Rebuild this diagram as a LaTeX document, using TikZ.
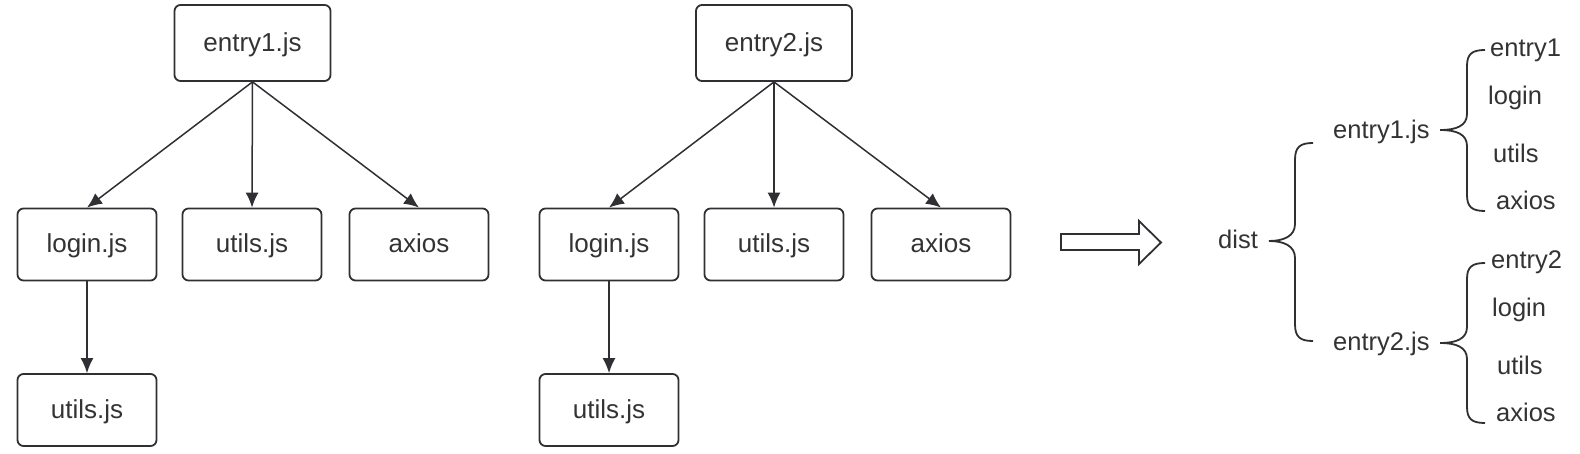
\documentclass[tikz,border=0pt]{standalone}
\usepackage{fontspec}
\setmainfont{Liberation Sans}
\usetikzlibrary{arrows.meta}
\definecolor{ink}{HTML}{2F3033}
\definecolor{txt}{HTML}{333333}
\tikzset{
  filebox/.style={draw=ink, line width=1.8pt, rounded corners=6pt, minimum width=139pt, minimum height=72pt, text=txt, font=\fontsize{26}{30}\selectfont, inner sep=0pt, text height=22pt, text depth=5pt},
  topbox/.style={filebox, minimum width=156pt, minimum height=76pt},
  conn/.style={draw=ink, line width=1.5pt, -{Latex[length=15pt,width=13pt]}},
  lbl/.style={text=txt, font=\fontsize{25.5}{30}\selectfont, inner sep=0pt, anchor=base west},
  brace/.style={draw=ink, line width=1.8pt}
}
\begin{document}
\begin{tikzpicture}[x=1pt,y=-1pt]
\useasboundingbox (0,0) rectangle (1580,454);
% group 1
\node[topbox] (e1) at (252.5,43) {entry1.js};
\node[filebox] (l1) at (87,244.5) {login.js};
\node[filebox] (u1) at (252,244.5) {utils.js};
\node[filebox] (a1) at (419,244.5) {axios};
\node[filebox] (ul1) at (87,410) {utils.js};
\draw[conn] (e1.south) -- (l1.north);
\draw[conn] (e1.south) -- (u1.north);
\draw[conn] (e1.south) -- (a1.north);
\draw[conn] (l1.south) -- (ul1.north);
% group 2
\node[topbox] (e2) at (774,43) {entry2.js};
\node[filebox] (l2) at (609,244.5) {login.js};
\node[filebox] (u2) at (774,244.5) {utils.js};
\node[filebox] (a2) at (941,244.5) {axios};
\node[filebox] (ul2) at (609,410) {utils.js};
\draw[conn] (e2.south) -- (l2.north);
\draw[conn] (e2.south) -- (u2.north);
\draw[conn] (e2.south) -- (a2.north);
\draw[conn] (l2.south) -- (ul2.north);
% block arrow
\draw[draw=ink, line width=1.8pt, line join=miter]
  (1061,234) -- (1139,234) -- (1139,221) -- (1161,242.5) -- (1139,264) -- (1139,250) -- (1061,250) -- cycle;
% right tree
\node[lbl] (dist) at (1218,249) {dist};
\node[lbl] (d1) at (1333,139) {entry1.js};
\node[lbl] (d2) at (1333,351) {entry2.js};
\node[lbl] (f11) at (1490,57) {entry1};
\node[lbl] (f12) at (1488,105) {login};
\node[lbl] (f13) at (1493,162.5) {utils};
\node[lbl] (f14) at (1496,210) {axios};
\node[lbl] (f21) at (1491,269) {entry2};
\node[lbl] (f22) at (1492,317) {login};
\node[lbl] (f23) at (1497,374) {utils};
\node[lbl] (f24) at (1496,421) {axios};
% big brace
\draw[brace] (1313,143) .. controls (1300,143) and (1295,147) .. (1295,160)
  -- (1295,224) .. controls (1295,236) and (1284,241) .. (1269,241)
  .. controls (1284,241) and (1295,246) .. (1295,258)
  -- (1295,324) .. controls (1295,337) and (1300,341) .. (1313,341);
% small brace 1
\draw[brace] (1485,50) .. controls (1472,50) and (1467,54) .. (1467,66)
  -- (1467,114) .. controls (1467,126) and (1456,130) .. (1440,130)
  .. controls (1456,130) and (1467,134) .. (1467,146)
  -- (1467,195) .. controls (1467,207) and (1472,211) .. (1485,211);
% small brace 2
\draw[brace] (1485,263) .. controls (1472,263) and (1467,267) .. (1467,279)
  -- (1467,327) .. controls (1467,339) and (1456,343) .. (1440,343)
  .. controls (1456,343) and (1467,347) .. (1467,359)
  -- (1467,407) .. controls (1467,419) and (1472,423) .. (1485,423);
\end{tikzpicture}
\end{document}
